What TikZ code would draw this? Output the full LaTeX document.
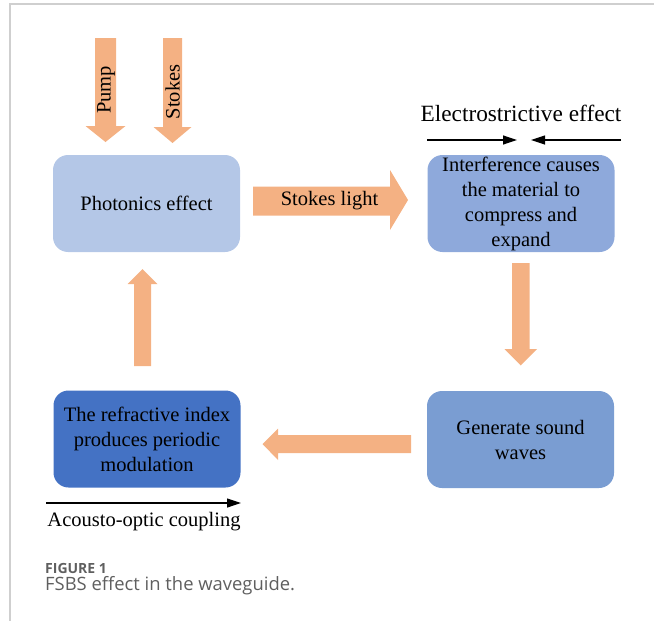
\documentclass[tikz,border=0pt]{standalone}
\usepackage{fontspec}
\setmainfont{Liberation Serif}
\newfontfamily\capfont{Open Sans}
\usetikzlibrary{arrows.meta}
\definecolor{arrowor}{HTML}{F4B183}
\definecolor{boxa}{HTML}{B4C7E7}
\definecolor{boxb}{HTML}{8EA9DB}
\definecolor{boxc}{HTML}{7A9DD2}
\definecolor{boxd}{HTML}{4472C4}
\definecolor{frameg}{HTML}{CFCFCF}
\definecolor{capg}{HTML}{5F5F5F}
\begin{document}
\begin{tikzpicture}[x=1pt,y=-1pt,
  box/.style={rounded corners=15pt, draw=none, minimum width=187pt, minimum height=97pt,
    align=center, inner sep=0pt, font=\fontsize{20.5}{25}\selectfont},
  fat/.style={fill=arrowor, draw=none},
  lbl/.style={inner sep=0pt, font=\fontsize{20.5}{25}\selectfont},
  thin/.style={line width=1.2pt, -{Triangle[length=14pt,width=9pt]}}]
\useasboundingbox (0,0) rectangle (654,621);
% frame
\draw[frameg, line width=1.5pt] (654,4) -- (10,4) -- (10,621);
% boxes
\node[box, fill=boxa] (photo) at (146.5,203.5) {Photonics effect};
\node[box, fill=boxb] (interf) at (521,203.5) {Interference causes\\the material to\\compress and\\expand};
\node[box, fill=boxc] (gen) at (520.5,439.5) {Generate sound\\waves};
\node[box, fill=boxd] (refr) at (147,439) {The refractive index\\produces periodic\\modulation};
% pump / stokes input arrows
\fill[fat] (95,38) -- (116,38) -- (116,126) -- (125.5,126) -- (105.5,142) -- (85.5,126) -- (95,126) -- cycle;
\node[lbl, rotate=90] (pump) at (106,90) {Pump};
\fill[fat] (163,38) -- (182,38) -- (182,127) -- (191.5,127) -- (172.5,143) -- (153.5,127) -- (163,127) -- cycle;
\node[lbl, rotate=90] (stk) at (172.5,92) {Stokes};
% stokes light arrow
\fill[fat] (253,186.5) -- (390,186.5) -- (390,170) -- (408,200) -- (390,230) -- (390,215.5) -- (253,215.5) -- cycle;
\node[lbl] (sl) at (329.5,201) {Stokes light};
% down arrow
\fill[fat] (512,263) -- (529.5,263) -- (529.5,349) -- (537,349) -- (520.75,365.5) -- (504.5,349) -- (512,349) -- cycle;
% left arrow
\fill[fat] (411,435) -- (278,435) -- (278,428.5) -- (262.5,444) -- (278,460) -- (278,453) -- (411,453) -- cycle;
% up arrow
\fill[fat] (134,366) -- (151,366) -- (151,284) -- (157.5,284) -- (142.5,269) -- (127.5,284) -- (134,284) -- cycle;
% electrostrictive
\node[inner sep=0pt, font=\fontsize{23.3}{27}\selectfont] (elec) at (521,113) {Electrostrictive effect};
\coordinate (ea) at (427,140);
\coordinate (eb) at (517,140);
\coordinate (ec) at (621,140);
\coordinate (ed) at (531,140);
\draw[thin] (ea) -- (eb);
\draw[thin] (ec) -- (ed);
% acousto-optic
\coordinate (aa) at (46,503);
\coordinate (ab) at (241,503);
\draw[thin] (aa) -- (ab);
\node[lbl] (acou) at (144,522) {Acousto-optic coupling};
% caption
\node[anchor=base west, inner sep=0pt, text=capg, font=\capfont\bfseries\fontsize{14}{16}\selectfont] (fig) at (45,573) {FIGURE 1};
\node[anchor=base west, inner sep=0pt, text=capg, font=\capfont\fontsize{18.4}{21}\selectfont] (cap) at (45,590.5) {FSBS effect in the waveguide.};
\end{tikzpicture}
\end{document}
